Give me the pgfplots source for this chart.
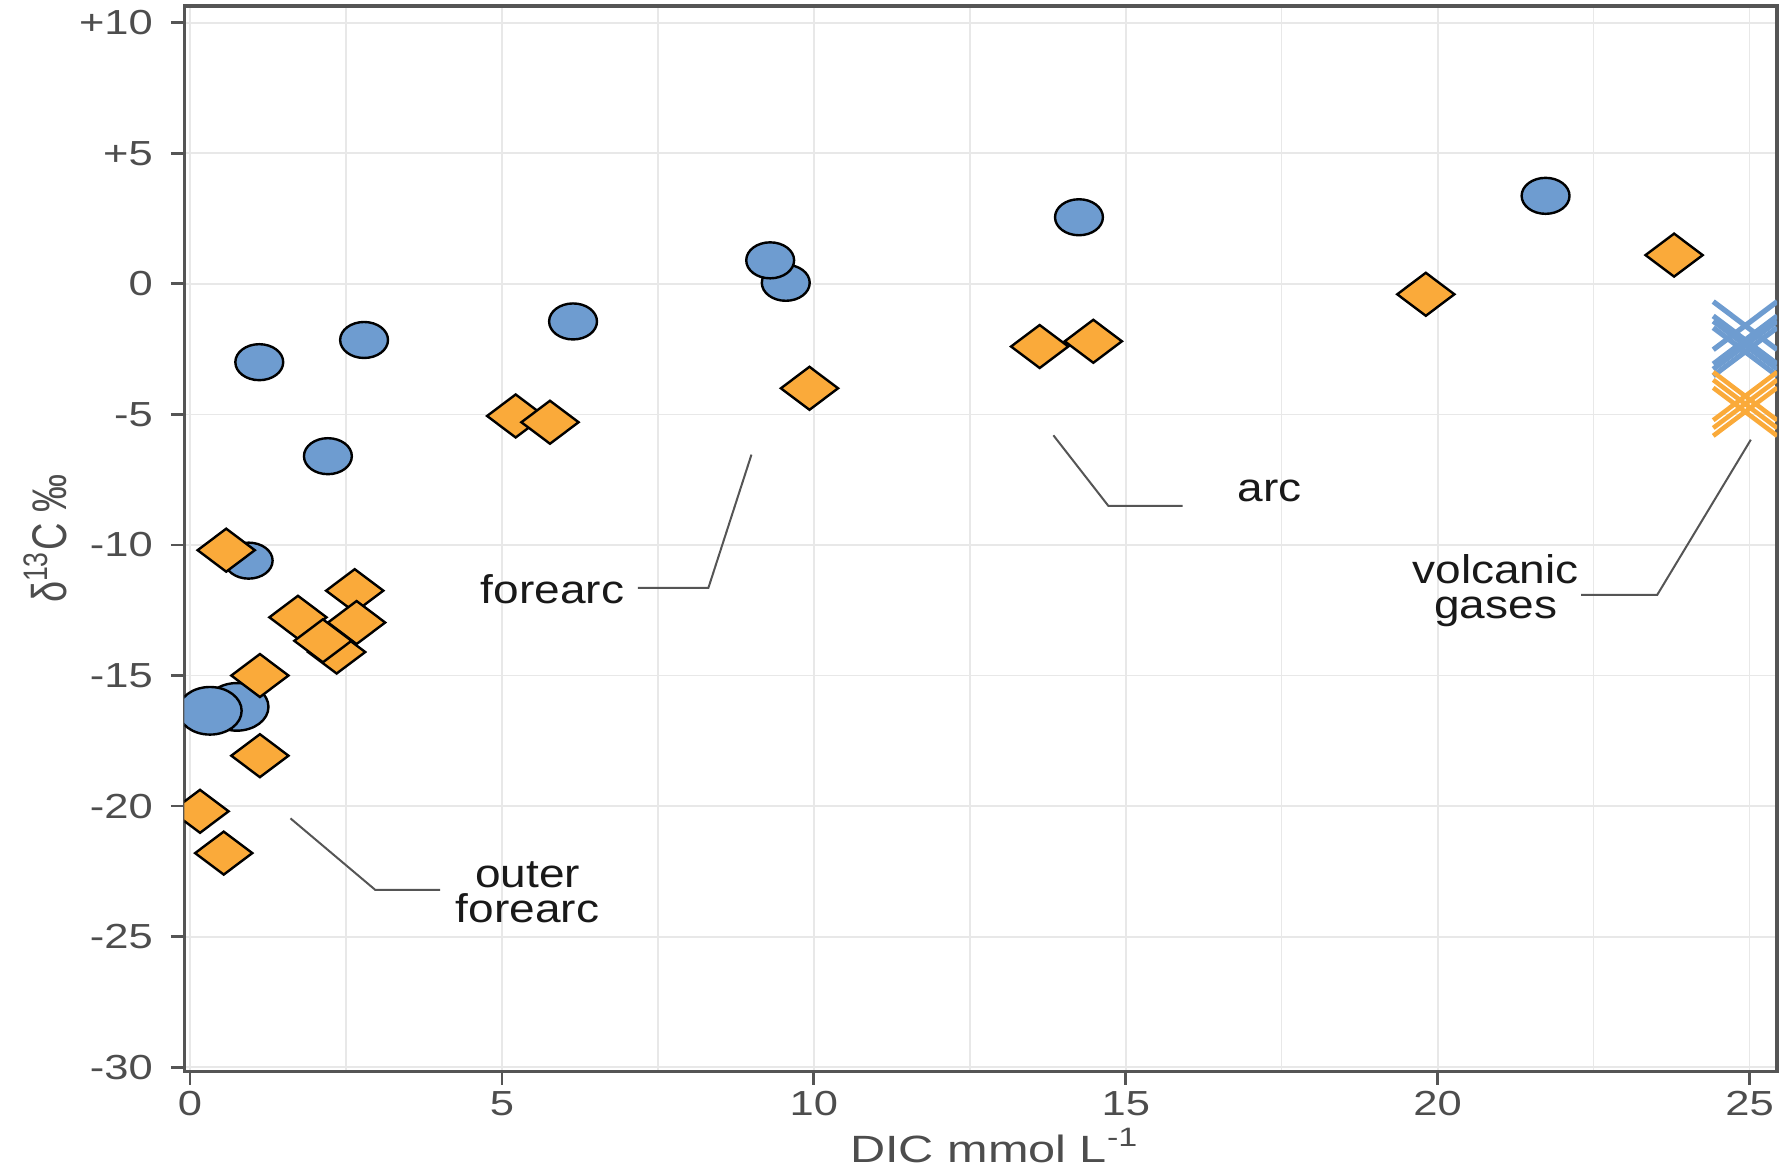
\documentclass[border=0pt]{standalone}
\usepackage{fontspec}
\setmainfont{Liberation Sans}
\usepackage{pgfplots}
\pgfplotsset{compat=1.18}

\definecolor{cblue}{RGB}{110,156,208}
\definecolor{corange}{RGB}{250,170,58}
\definecolor{axisgrey}{RGB}{85,85,85}
\definecolor{tickgrey}{RGB}{77,77,77}
\definecolor{gridgrey}{RGB}{232,232,232}

\tikzset{
  anno/.style={font=\fontsize{10}{8.6}\selectfont, text=black!90, align=center, xscale=1.15, inner sep=0pt},
  leader/.style={draw=axisgrey, line width=0.5pt}
}

\begin{document}
\begin{tikzpicture}
\begin{axis}[
    at={(0,0)}, anchor=south west,
    scale only axis,
    width=398.1pt, height=266.25pt,
    xmin=-0.09, xmax=25.44,
    ymin=-30.15, ymax=10.64,
    xtick={0,5,10,15,20,25},
    xticklabels={0,5,10,15,20,25},
    minor xtick={2.5,7.5,12.5,17.5,22.5},
    ytick={-30,-25,-20,-15,-10,-5,0,5,10},
    yticklabels={-30,-25,-20,-15,-10,-5,0,+5,+10},
    xtick pos=bottom, ytick pos=left,
    tick align=outside,
    major tick length=3.4pt, minor tick length=0pt,
    tick style={draw=axisgrey, line width=0.7pt},
    axis line style={draw=axisgrey, line width=0.8pt},
    xmajorgrids, ymajorgrids, xminorgrids,
    major grid style={draw=gridgrey, line width=0.45pt},
    minor grid style={draw=gridgrey, line width=0.35pt},
    tick label style={font=\fontsize{8.7}{10}\selectfont, text=tickgrey, xscale=1.25},
    xticklabel style={anchor=base, inner sep=0pt, yshift=-7.7pt},
    yticklabel style={anchor=east, inner sep=0pt, xshift=-3.4pt},
    xlabel={DIC mmol L\textsuperscript{-1}},
    ylabel={δ\textsuperscript{13}C ‰},
    label style={font=\fontsize{9.5}{11}\selectfont, text=tickgrey},
    xlabel style={at={(axis description cs:0.509,0)}, anchor=base, inner sep=0pt, yshift=-22.75pt, xscale=1.28},
    ylabel style={at={(axis description cs:-0.0872,0.5)}, anchor=center, inner sep=0pt, yscale=1.28},
    clip marker paths=true,
]
% blue circles
\addplot[only marks, mark=*, mark size=4.5pt,
  mark options={xscale=1.33, fill=cblue, draw=black, line width=0.6pt}] coordinates {
    (1.11,-3.0) (2.79,-2.15) (2.21,-6.6) (6.14,-1.44) (9.55,0.04) (9.30,0.9)
    (14.25,2.55) (21.73,3.37) (0.94,-10.6)
};
\addplot[only marks, mark=*, mark size=5.95pt,
  mark options={xscale=1.33, fill=cblue, draw=black, line width=0.6pt}] coordinates {
    (0.75,-16.2) (0.32,-16.35)
};
% orange diamonds
\addplot[only marks, mark=square*, mark size=3.8pt,
  mark options={xscale=1.33, rotate=45, fill=corange, draw=black, line width=0.6pt}] coordinates {
    (0.58,-10.2) (2.64,-11.75) (1.73,-12.77) (2.67,-12.97) (2.35,-14.1) (2.13,-13.67)
    (1.12,-15.0) (1.12,-18.07) (0.16,-20.2) (0.54,-21.8)
    (5.22,-5.06) (5.77,-5.3) (9.93,-4.0) (13.62,-2.4) (14.48,-2.2)
    (19.81,-0.4) (23.79,1.1)
};
% volcanic gases
\addplot[only marks, mark=x, mark size=8.5pt, color=cblue,
  mark options={xscale=1.33, line width=1.3pt}] coordinates {
    (24.93,-1.6) (24.93,-2.15) (24.93,-2.35) (24.93,-2.6)
};
\addplot[only marks, mark=x, mark size=8.5pt, color=corange,
  mark options={xscale=1.33, line width=1.15pt}] coordinates {
    (24.93,-4.3) (24.93,-4.6) (24.93,-4.9)
};
% annotations
\draw[leader] (axis cs:1.61,-20.47) -- (axis cs:2.97,-23.21) -- (axis cs:4.01,-23.21);
\node[anno] at (axis cs:5.41,-23.3) {outer\\forearc};
\draw[leader] (axis cs:9.0,-6.54) -- (axis cs:8.31,-11.64) -- (axis cs:7.18,-11.64);
\node[anno] at (axis cs:5.81,-11.7) {forearc};
\draw[leader] (axis cs:13.84,-5.80) -- (axis cs:14.72,-8.50) -- (axis cs:15.91,-8.50);
\node[anno] at (axis cs:17.31,-7.94) {arc};
\draw[leader] (axis cs:25.02,-5.97) -- (axis cs:23.52,-11.91) -- (axis cs:22.30,-11.91);
\node[anno] at (axis cs:20.93,-11.75) {volcanic\\gases};
\end{axis}
\path (-46.1pt,-25.25pt) rectangle (400.35pt,267.75pt);
\end{tikzpicture}
\end{document}
